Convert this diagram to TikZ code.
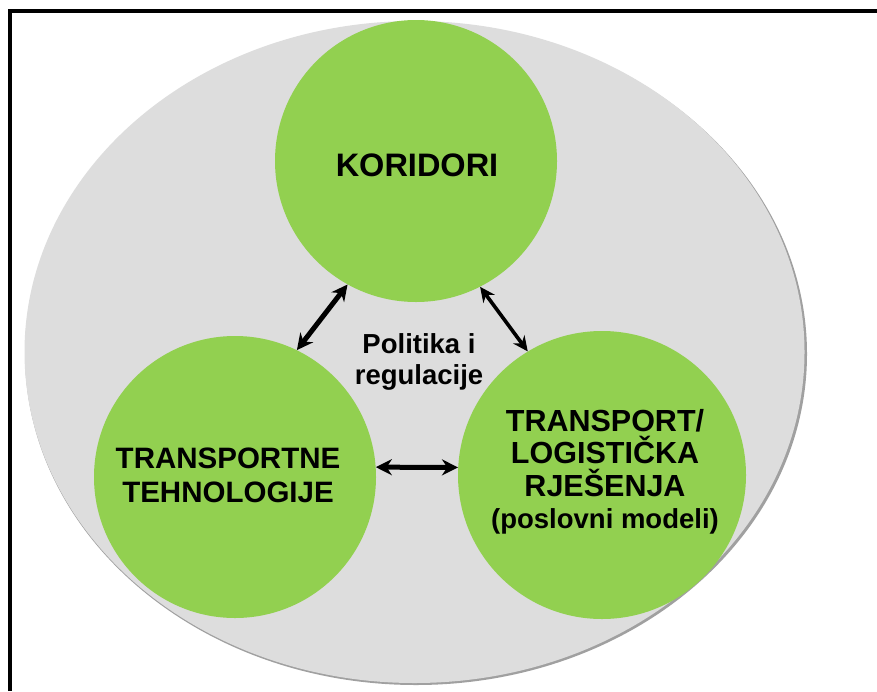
\documentclass[tikz,border=0pt]{standalone}
\usepackage{fontspec}
\setmainfont{Liberation Sans}
\usetikzlibrary{arrows.meta}
\definecolor{ovalgray}{HTML}{DDDDDD}
\definecolor{ovalshadow}{HTML}{A0A0A0}
\definecolor{leafgreen}{HTML}{92D050}
\tikzset{
  bubble/.style={circle, fill=leafgreen, inner sep=0pt, align=center},
  link/.style={{Stealth[length=16pt,width=16pt]}-{Stealth[length=16pt,width=16pt]}, line width=5pt, black},
  thinlink/.style={{Stealth[length=15pt,width=14pt]}-{Stealth[length=15pt,width=14pt]}, line width=3.6pt, black}
}
\begin{document}
\begin{tikzpicture}[x=1pt,y=-1pt]
\useasboundingbox (0,0) rectangle (877,691);
\fill[white] (0,0) rectangle (877,691);
% oval with soft shadow edge
\fill[ovalshadow] (416,354) ellipse [x radius=391, y radius=331];
\fill[ovalgray] (414.5,352) ellipse [x radius=390, y radius=331];
% frame (left and top edges visible)
\draw[line width=4pt] (10,691) -- (10,11) -- (877,11);
% circles
\node[bubble, minimum size=282pt] (top) at (416,161) {};
\node[bubble, minimum size=282pt] (left) at (235,477) {};
\node[bubble, minimum size=288pt] (right) at (602,475) {};
% texts
\node[font=\bfseries\fontsize{32.5}{36}\selectfont] (kor) at (417,165) {KORIDORI};
\node[align=center, font=\bfseries\fontsize{29.5}{34}\selectfont] (ttxt) at (228,475) {TRANSPORTNE\\TEHNOLOGIJE};
\node[align=center, font=\bfseries\fontsize{30.5}{32.5}\selectfont] (rtxt) at (605,472) {TRANSPORT/\\LOGISTIČKA\\RJEŠENJA\\{\fontsize{27.5}{32.5}\selectfont (poslovni modeli)}};
\node[align=center, font=\bfseries\fontsize{27.5}{31}\selectfont] (pol) at (419,362) {Politika i\\regulacije};
% arrows
\draw[link] (top.241) -- (left.64);
\draw[thinlink] (top.297) -- (right.121);
\draw[link] (left.4) -- (right.177);
\end{tikzpicture}
\end{document}
